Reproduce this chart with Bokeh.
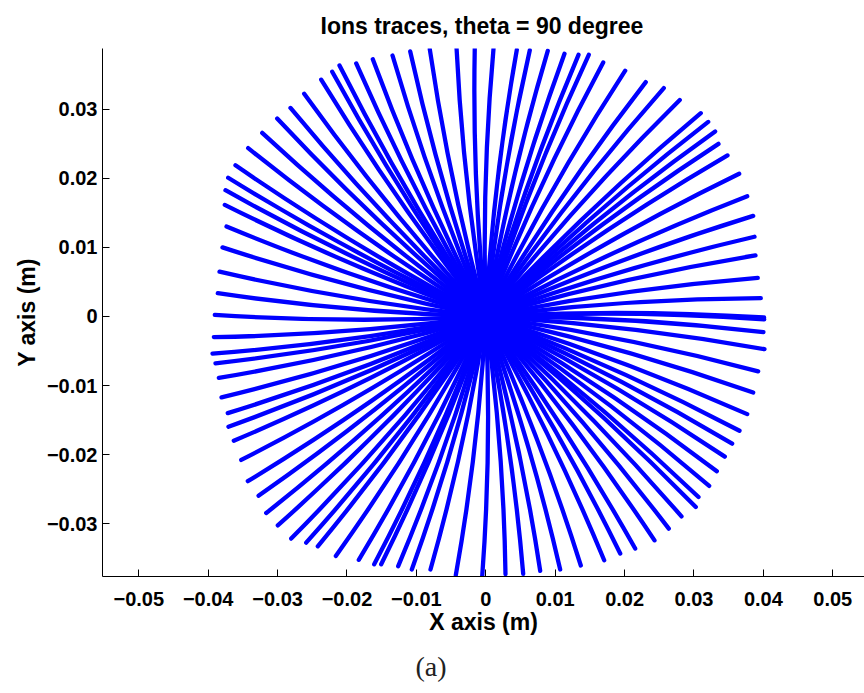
from bokeh.plotting import figure
from bokeh.models import Range1d, FixedTicker, Title
from bokeh.embed import file_html
from bokeh.resources import INLINE

# Trace end points (m)
X_END = [-0.03905, -0.03862, -0.03837, -0.03794, -0.03736, -0.03761, -0.03751, -0.03712,
         -0.03607, -0.03424, -0.03222, -0.03006, -0.02814, -0.02617, -0.02372, -0.02213,
         -0.02108, -0.01867, -0.01628, -0.01344, -0.01089, -0.00807, -0.00422, -0.00159,
         0.00111, 0.00447, 0.00634, 0.00893, 0.01134, 0.01336, 0.01484, 0.01692,
         0.02009, 0.02305, 0.02565, 0.02795, 0.03098, 0.03205, 0.03305, 0.03353,
         0.03483, 0.03651, 0.03767, 0.03853, 0.03872, 0.03886, 0.03919, 0.03963,
         0.04012, 0.04010, 0.04001, 0.04016, 0.03925, 0.03853, 0.03767, 0.03656,
         0.03550, 0.03444, 0.03329, 0.03219, 0.03065, 0.03026, 0.02820, 0.02637,
         0.02431, 0.02153, 0.01937, 0.01706, 0.01369, 0.01072, 0.00784, 0.00539,
         0.00284, -0.00052, -0.00432, -0.00797, -0.01066, -0.01262, -0.01507, -0.01608,
         -0.01830, -0.02161, -0.02421, -0.02588, -0.02804, -0.02997, -0.03164, -0.03275,
         -0.03429, -0.03524, -0.03631, -0.03708, -0.03718, -0.03808, -0.03847, -0.03895,
         -0.03938, -0.03919]
Y_END = [0.00024, 0.00336, 0.00648, 0.00999, 0.01301, 0.01614, 0.01826, 0.02007,
         0.02186, 0.02435, 0.02656, 0.02863, 0.03016, 0.03223, 0.03425, 0.03540,
         0.03631, 0.03660, 0.03722, 0.03775, 0.03833, 0.03866, 0.03895, 0.03872,
         0.03872, 0.03857, 0.03852, 0.03843, 0.03800, 0.03785, 0.03785, 0.03674,
         0.03555, 0.03390, 0.03304, 0.03131, 0.02940, 0.02814, 0.02676, 0.02497,
         0.02330, 0.02065, 0.01739, 0.01455, 0.01153, 0.00883, 0.00558, 0.00264,
         -0.00043, -0.00015, -0.00226, -0.00473, -0.00793, -0.01099, -0.01412, -0.01653,
         -0.01840, -0.02027, -0.02238, -0.02450, -0.02612, -0.02757, -0.02892, -0.03069,
         -0.03238, -0.03357, -0.03429, -0.03526, -0.03602, -0.03660, -0.03679, -0.03722,
         -0.03728, -0.03765, -0.03742, -0.03660, -0.03660, -0.03612, -0.03584, -0.03584,
         -0.03520, -0.03463, -0.03324, -0.03271, -0.03213, -0.03022, -0.02843, -0.02594,
         -0.02382, -0.02075, -0.01797, -0.01595, -0.01398, -0.01171, -0.00889, -0.00677,
         -0.00537, -0.00298]
BEND = 0.03  # sideways bow of each trace, as a fraction of its length

X_TICKS = [-0.05, -0.04, -0.03, -0.02, -0.01, 0.0, 0.01, 0.02, 0.03, 0.04, 0.05]
X_LABELS = ["\u22120.05", "\u22120.04", "\u22120.03", "\u22120.02", "\u22120.01", "0",
            "0.01", "0.02", "0.03", "0.04", "0.05"]
Y_TICKS = [-0.03, -0.02, -0.01, 0.0, 0.01, 0.02, 0.03]
Y_LABELS = ["\u22120.03", "\u22120.02", "\u22120.01", "0", "0.01", "0.02", "0.03"]

x0 = [0.0] * len(X_END)
y0 = [0.0] * len(X_END)
cx = [x / 2 - BEND * y for x, y in zip(X_END, Y_END)]
cy = [y / 2 + BEND * x for x, y in zip(X_END, Y_END)]

p = figure(width=864, height=693, output_backend="svg", toolbar_location=None,
           x_range=Range1d(-0.05523, 0.05457), y_range=Range1d(-0.03761, 0.03876),
           min_border_left=102, min_border_right=0, min_border_top=47, min_border_bottom=116)
p.outline_line_color = None
p.xgrid.visible = False
p.ygrid.visible = False

p.quadratic(x0=x0, y0=y0, x1=X_END, y1=Y_END, cx=cx, cy=cy,
            line_color="#0000ff", line_width=4.3, line_cap="round")

p.title.text = "Ions traces, theta = 90 degree"
p.title.text_font = "Liberation Sans"
p.title.text_font_size = "23px"
p.title.text_font_style = "bold"
p.title.text_color = "black"
p.title.align = "left"
p.title.offset = 218
p.title.standoff = 20

for ax in (p.xaxis[0], p.yaxis[0]):
    ax.major_tick_in = 7
    ax.major_tick_out = 0
    ax.minor_tick_in = 0
    ax.minor_tick_out = 0
    ax.axis_line_color = "black"
    ax.major_tick_line_color = "black"
    ax.major_label_text_font = "Liberation Sans"
    ax.major_label_text_font_size = "20px"
    ax.major_label_text_font_style = "bold"
    ax.major_label_text_color = "black"
    ax.axis_label_text_font = "Liberation Sans"
    ax.axis_label_text_font_size = "23px"
    ax.axis_label_text_font_style = "bold"
    ax.axis_label_text_color = "black"

p.xaxis[0].ticker = FixedTicker(ticks=X_TICKS)
p.xaxis[0].major_label_overrides = dict(zip(X_TICKS, X_LABELS))
p.xaxis[0].axis_label = "X axis (m)"
p.xaxis[0].major_label_standoff = 15
p.xaxis[0].axis_label_standoff = 0

p.yaxis[0].ticker = FixedTicker(ticks=Y_TICKS)
p.yaxis[0].major_label_overrides = dict(zip(Y_TICKS, Y_LABELS))
p.yaxis[0].axis_label = "Y axis (m)"
p.yaxis[0].major_label_standoff = 5
p.yaxis[0].axis_label_standoff = 4

p.add_layout(Title(text="(a)", align="left", offset=313, text_font="Liberation Serif",
                   text_font_size="28px", text_font_style="normal", text_color="#222222",
                   standoff=23), "below")

open("out.html", "w").write(file_html(p, INLINE))
